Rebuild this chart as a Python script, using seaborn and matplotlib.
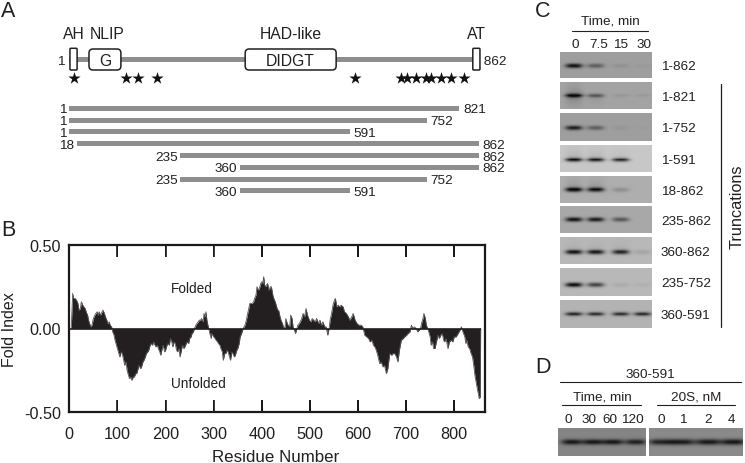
import numpy as np
import matplotlib
matplotlib.use("Agg")
import matplotlib.pyplot as plt
from matplotlib.patches import FancyBboxPatch, Rectangle
import seaborn as sns

W, H = 745, 464
INK = "#231f20"
BAR = "#8e8e8e"

# ---- Panel A data
domain_names = ["AH", "NLIP", "HAD-like", "AT"]
domain_start = [3, 43, 371, 849]
domain_end = [18, 110, 562, 864]
domain_inner = ["", "G", "DIDGT", ""]
star_residues = [12, 121, 145, 185, 601, 698, 710, 730, 751, 761, 782, 803, 831]
construct_start = [1, 1, 1, 18, 235, 360, 235, 360]
construct_end = [821, 752, 591, 862, 862, 862, 752, 591]

# ---- Panel B data
residue = [4, 7, 9, 12, 15, 18, 20, 23, 25, 28,
           30, 33, 35, 38, 40, 42, 45, 47, 50, 53,
           55, 58, 60, 62, 65, 68, 70, 73, 75, 78,
           80, 83, 85, 88, 90, 93, 95, 98, 100, 103,
           105, 108, 110, 113, 115, 118, 120, 123, 125, 128,
           130, 133, 135, 138, 140, 143, 145, 148, 150, 153,
           155, 158, 160, 163, 165, 168, 170, 173, 175, 178,
           180, 183, 185, 188, 190, 193, 195, 198, 200, 203,
           205, 208, 210, 213, 215, 218, 220, 223, 225, 228,
           230, 233, 235, 238, 240, 243, 245, 248, 250, 253,
           255, 258, 260, 263, 265, 268, 270, 273, 275, 278,
           280, 282, 284, 286, 288, 290, 292, 295, 296, 300,
           303, 305, 308, 310, 313, 315, 318, 320, 323, 325,
           328, 330, 333, 335, 338, 340, 343, 345, 348, 350,
           353, 355, 358, 360, 363, 365, 368, 370, 373, 375,
           378, 380, 383, 385, 388, 390, 393, 395, 398, 400,
           402, 404, 406, 408, 412, 415, 418, 420, 423, 425,
           428, 430, 433, 435, 438, 440, 443, 445, 448, 450,
           453, 455, 458, 460, 463, 465, 468, 470, 473, 475,
           478, 480, 483, 486, 489, 492, 495, 499, 502, 505,
           508, 511, 514, 518, 521, 524, 527, 531, 534, 537,
           540, 542, 545, 548, 551, 553, 556, 559, 562, 565,
           569, 572, 576, 580, 583, 587, 590, 594, 598, 602,
           607, 610, 614, 618, 622, 625, 629, 632, 635, 638,
           641, 645, 648, 652, 655, 659, 662, 666, 670, 673,
           676, 680, 683, 686, 690, 694, 697, 701, 704, 708,
           711, 714, 717, 721, 724, 727, 730, 732, 735, 737,
           740, 742, 745, 748, 750, 752, 755, 757, 760, 763,
           766, 769, 772, 775, 778, 780, 783, 787, 790, 794,
           797, 800, 804, 808, 812, 815, 818, 822, 824, 826,
           829, 832, 835, 838, 841, 843, 846, 848, 850, 852,
           854, 855]
fold_index = [0.00, 0.21, 0.18, 0.18, 0.17, 0.15, 0.11, 0.12, 0.16, 0.14,
              0.13, 0.12, 0.10, 0.08, 0.05, 0.03, 0.01, 0.02, 0.06, 0.08,
              0.09, 0.10, 0.08, 0.10, 0.08, 0.10, 0.11, 0.09, 0.07, 0.05,
              0.03, 0.04, 0.02, 0.01, -0.02, -0.04, -0.07, -0.10, -0.12, -0.15,
              -0.17, -0.14, -0.15, -0.19, -0.22, -0.20, -0.25, -0.28, -0.30, -0.29,
              -0.31, -0.29, -0.29, -0.27, -0.27, -0.24, -0.22, -0.24, -0.23, -0.20,
              -0.19, -0.17, -0.15, -0.14, -0.13, -0.10, -0.09, -0.10, -0.08, -0.10,
              -0.11, -0.10, -0.12, -0.14, -0.16, -0.12, -0.10, -0.14, -0.13, -0.10,
              -0.09, -0.10, -0.06, -0.08, -0.11, -0.08, -0.09, -0.13, -0.14, -0.12,
              -0.17, -0.13, -0.10, -0.12, -0.11, -0.09, -0.08, -0.09, -0.06, -0.05,
              -0.03, -0.02, 0.00, 0.02, 0.03, 0.04, 0.05, 0.05, 0.06, 0.04,
              0.09, 0.07, 0.10, 0.05, 0.02, 0.00, -0.03, -0.06, -0.03, -0.05,
              -0.06, -0.07, -0.08, -0.09, -0.10, -0.12, -0.14, -0.19, -0.15, -0.15,
              -0.13, -0.14, -0.17, -0.19, -0.14, -0.15, -0.17, -0.16, -0.13, -0.12,
              -0.09, -0.05, -0.03, -0.01, 0.01, 0.02, 0.05, 0.08, 0.12, 0.15,
              0.15, 0.15, 0.16, 0.18, 0.20, 0.25, 0.23, 0.24, 0.27, 0.28,
              0.27, 0.31, 0.26, 0.25, 0.27, 0.23, 0.25, 0.25, 0.20, 0.18,
              0.16, 0.14, 0.11, 0.11, 0.07, 0.05, 0.03, 0.01, 0.00, 0.06,
              0.03, 0.02, 0.01, 0.08, 0.06, 0.01, -0.01, -0.03, 0.00, 0.02,
              0.03, 0.04, 0.06, 0.09, 0.07, 0.12, 0.08, 0.05, 0.04, 0.06,
              0.05, 0.04, 0.06, 0.03, 0.05, 0.02, 0.04, 0.01, 0.01, -0.04,
              0.00, 0.05, 0.09, 0.14, 0.17, 0.18, 0.13, 0.14, 0.13, 0.14,
              0.13, 0.10, 0.09, 0.07, 0.05, 0.07, 0.09, 0.05, 0.03, 0.02,
              0.02, 0.01, -0.04, -0.05, -0.06, -0.08, -0.07, -0.10, -0.11, -0.13,
              -0.16, -0.21, -0.20, -0.23, -0.22, -0.27, -0.24, -0.15, -0.16, -0.15,
              -0.15, -0.17, -0.20, -0.13, -0.07, -0.06, -0.05, -0.04, -0.03, -0.02,
              0.02, 0.00, 0.01, 0.00, -0.02, -0.01, 0.00, 0.03, 0.06, 0.09,
              0.06, 0.02, 0.00, -0.03, -0.05, -0.10, -0.08, -0.12, -0.12, -0.08,
              -0.04, -0.06, -0.04, -0.03, -0.07, -0.08, -0.06, -0.12, -0.08, -0.07,
              -0.08, -0.05, -0.05, -0.03, -0.01, 0.01, -0.02, -0.05, -0.09, -0.07,
              -0.11, -0.12, -0.15, -0.17, -0.23, -0.28, -0.33, -0.36, -0.39, -0.42,
              -0.41, 0.00]
x_ticks_b = [0, 100, 200, 300, 400, 500, 600, 700, 800]
y_ticks_b = [-0.5, 0.0, 0.5]
y_labels_b = ["-0.50", "0.00", "0.50"]

# ---- Panel C data
blot_names = ["1-862", "1-821", "1-752", "1-591", "18-862", "235-862", "360-862", "235-752", "360-591"]
time_c = ["0", "7.5", "15", "30"]
blot_bg = [0.62, 0.64, 0.62, 0.78, 0.68, 0.66, 0.72, 0.72, 0.70]
blot_bands = [[0.55, 0.25, 0.05, 0.02],
              [0.60, 0.32, 0.05, 0.04],
              [0.50, 0.25, 0.03, 0.01],
              [0.72, 0.68, 0.62, 0.00],
              [0.62, 0.55, 0.12, 0.00],
              [0.58, 0.55, 0.32, 0.00],
              [0.62, 0.60, 0.55, 0.08],
              [0.66, 0.45, 0.05, 0.03],
              [0.62, 0.58, 0.58, 0.60]]
smear_up = [[0, 0, 0, 0], [0.15, 0, 0, 0], [0, 0, 0, 0], [0.12, 0.10, 0.05, 0],
            [0.12, 0.12, 0, 0], [0, 0, 0, 0], [0.06, 0.06, 0.06, 0], [0, 0, 0, 0], [0, 0, 0, 0]]
smear_down = [[0, 0, 0, 0], [0.18, 0.06, 0, 0], [0, 0, 0, 0], [0, 0, 0, 0],
              [0, 0, 0, 0], [0, 0, 0, 0], [0, 0, 0, 0], [0, 0, 0, 0], [0, 0, 0, 0]]

# ---- Panel D data
time_d = ["0", "30", "60", "120"]
conc_d = ["0", "1", "2", "4"]
bands_time = [0.42, 0.43, 0.43, 0.40]
bands_conc = [0.40, 0.43, 0.44, 0.45]

# ---- style
sns.set_theme(style="white")
plt.rcParams["font.family"] = ["Liberation Sans", "DejaVu Sans"]
plt.rcParams["text.color"] = INK
plt.rcParams["axes.labelcolor"] = INK

fig = plt.figure(figsize=(W / 100, H / 100), dpi=100, facecolor="white")


def axes_px(left, top, right, bottom, **kw):
    return fig.add_axes([left / W, 1 - bottom / H, (right - left) / W, (bottom - top) / H], **kw)


# overlay in pixel coordinates, for captions and rules
ov = axes_px(0, 0, W, H)
ov.set_xlim(0, W)
ov.set_ylim(H, 0)
ov.axis("off")
ov.set_zorder(5)


def txt(x, y, s, size=9.7, ha="center", va="center", **kw):
    ov.text(x, y + 1, s, fontsize=size, ha=ha, va=va, color=INK, **kw)


for letter, (lx, ly) in {"A": (8, 17), "B": (8, 236), "C": (543, 17), "D": (543, 373)}.items():
    ov.text(lx, ly, letter, fontsize=15.5, ha="center", va="baseline", color=INK)

# ---- Panel A: x axis in residues, y in figure pixels
axA = axes_px(69, 20, 479, 210)
axA.set_xlim(1, 862)
axA.set_ylim(210, 20)
axA.axis("off")
BACKBONE_Y = 60.3
axA.barh([BACKBONE_Y], [861], left=[1], height=5, color=BAR, linewidth=0)
box_tops = [49.3, 50, 50, 49.3]
box_bottom = 71
for s, e, inner, t in zip(domain_start, domain_end, domain_inner, box_tops):
    r = 4.0 if inner else 1.0
    axA.add_patch(FancyBboxPatch((s, t), e - s, box_bottom - t,
                                 boxstyle=f"round,pad=0,rounding_size={r / 0.476:.2f}",
                                 mutation_aspect=0.476, fc="white", ec=INK, lw=1.1, zorder=3, clip_on=False))
    if inner:
        axA.text((s + e) / 2, 61.5, inner, ha="center", va="center", fontsize=11.3, color=INK, zorder=4)
for n, s, e, xoff in zip(domain_names, domain_start, domain_end, [0, 5, 0, 0]):
    axA.text((s + e) / 2 + xoff, 34.5, n, ha="center", va="center", fontsize=11.3, color=INK)
axA.text(1, 62, "1 ", ha="right", va="center", fontsize=9.7, color=INK)
axA.text(864, 62, " 862", ha="left", va="center", fontsize=9.7, color=INK, clip_on=False)
sns.scatterplot(x=star_residues, y=[79.3] * len(star_residues), marker="*", s=85, color="#111111",
                linewidth=0, ax=axA, legend=False, clip_on=False, zorder=4)
axA.set_xlim(1, 862)
axA.set_ylim(210, 20)
axA.axis("off")

row_y = 109.3 + 11.8 * np.arange(len(construct_start))
axA.barh(row_y, np.array(construct_end) - np.array(construct_start), left=construct_start, height=5,
         color=BAR, linewidth=0)
for y, s, e in zip(row_y, construct_start, construct_end):
    axA.annotate(str(s), (s, y + 1), xytext=(-2, 0), textcoords="offset points", ha="right", va="center",
                 fontsize=9.7, color=INK, annotation_clip=False)
    axA.annotate(str(e), (e, y + 1), xytext=(2.5, 0), textcoords="offset points", ha="left", va="center",
                 fontsize=9.7, color=INK, annotation_clip=False)

# ---- Panel B
BL, BT, BR, BB = 69.3, 246.0, 485.0, 413.0
axB = axes_px(BL, BT, BR, BB)
axB.fill_between(residue, fold_index, 0, color=INK, linewidth=0)
sns.lineplot(x=residue, y=fold_index, estimator=None, sort=False, color="#555555", lw=0.6, ax=axB)
axB.hlines(0, 0, 856, color=INK, lw=1.2)
axB.set_xlim(0, 864)
axB.set_ylim(-0.5, 0.5)
axB.set_xticks(x_ticks_b)
axB.set_yticks(y_ticks_b)
axB.set_yticklabels(y_labels_b)
axB.set_xlabel("")
axB.set_ylabel("")
FRAME = "#1a1a1a"
axB.tick_params(axis="x", direction="in", top=True, bottom=True, length=8.5, width=1.2, color=FRAME,
                labelsize=11.7, pad=10, labelcolor=INK)
axB.tick_params(axis="y", left=False, length=0, labelsize=11.7, pad=6, labelcolor=INK)
for sp in axB.spines.values():
    sp.set_visible(True)
    sp.set_color(FRAME)
    sp.set_linewidth(1.6)
# the same frame and ticks as thin filled strips on the overlay
to_px = (axB.transData + ov.transData.inverted()).transform
for (fx, fy, fw, fh) in [(BL - 1, BT - 1, BR - BL + 2, 2), (BL - 1, BB - 1, BR - BL + 2, 2),
                         (BL - 1, BT - 1, 2, BB - BT + 2), (BR - 1, BT - 1, 2, BB - BT + 2)]:
    ov.add_patch(Rectangle((fx, fy), fw, fh, fc=FRAME, ec="none", zorder=6))
for tick in x_ticks_b[1:]:
    tx = to_px((tick, 0))[0]
    ov.add_patch(Rectangle((tx - 0.8, BT), 1.6, 12, fc=FRAME, ec="none", zorder=6))
    ov.add_patch(Rectangle((tx - 0.8, BB - 12), 1.6, 12, fc=FRAME, ec="none", zorder=6))
txt(191.7, 288, "Folded", size=9.8)
txt(198, 383, "Unfolded", size=9.8)
txt(276, 457, "Residue Number", size=12.2)
txt(9.5, 329, "Fold Index", size=11.5, rotation=90)


# ---- Blots
def blot(left, top, right, bottom, bg, bands, lanes_px, yfrac, half=8.5, thick=2.3, up=None, down=None):
    w, h = int(round(right - left)), int(round(bottom - top))
    xs = np.arange(w) + 0.5 + left
    ys = np.arange(h) + 0.5
    y0 = yfrac * h
    m = np.full((h, w), float(bg))
    up = up or [0] * len(bands)
    down = down or [0] * len(bands)
    for a, lx, u, d in zip(bands, lanes_px, up, down):
        gx = np.exp(-np.abs((xs - lx) / half) ** 3)
        gy = np.exp(-((ys - y0) / thick) ** 2)
        m -= a * np.outer(gy, gx)
        m -= u * np.outer((ys < y0) * np.exp(-(y0 - ys) / 7.0), gx)
        m -= d * np.outer((ys > y0) * np.exp(-(ys - y0) / 7.0), gx)
    m = np.clip(m, 0.04, 1)
    ax = axes_px(left, top, right, bottom)
    sns.heatmap(m, vmin=0, vmax=1, cmap="gray", cbar=False, xticklabels=False, yticklabels=False, ax=ax)
    return ax


row_tops = [52.7, 82.7, 114, 145.7, 177, 207.3, 238, 269, 300.7]
row_bots = [79, 110.3, 142, 173.3, 203.7, 234, 265.3, 296.7, 329.3]
row_frac = [0.53, 0.50, 0.53, 0.55, 0.51, 0.50, 0.56, 0.60, 0.50]
lanes_c = [574.0, 595.7, 620.7, 642.5]
for i, name in enumerate(blot_names):
    t, b = row_tops[i], row_bots[i]
    blot(560, t, 652, b, blot_bg[i], blot_bands[i], lanes_c, row_frac[i], up=smear_up[i], down=smear_down[i])
    txt(661, (t + b) / 2 + 0.5, name, ha="left")

txt(610, 21, "Time, min")
ov.plot([572, 648], [32.3, 32.3], color=INK, lw=0.8)
for s, x in zip(time_c, [575, 599, 621, 644]):
    txt(x, 44, s)
ov.plot([720.7, 720.7], [85, 328], color=INK, lw=0.9)
txt(737, 206, "Truncations", size=11.7, rotation=90)

lanes_d1 = [572.3, 593.3, 613.3, 636]
lanes_d2 = [661, 682.3, 708.3, 733.3]
blot(558.3, 429.3, 646, 457.3, 0.52, bands_time, lanes_d1, 0.5, half=10.5, thick=2.8)
blot(649, 429.3, 743.3, 457.3, 0.54, bands_conc, lanes_d2, 0.5, half=12.5, thick=3.0)
txt(650, 374, "360-591")
ov.plot([560, 741], [383.3, 383.3], color=INK, lw=0.8)
txt(602, 397, "Time, min")
ov.plot([562, 641], [406, 406], color=INK, lw=0.8)
txt(696, 397, "20S, nM")
ov.plot([657, 735], [406, 406], color=INK, lw=0.8)
for s, x in zip(time_d, [568.5, 589.5, 610, 632.5]):
    txt(x, 419, s)
for s, x in zip(conc_d, [661, 682.7, 707.7, 731.7]):
    txt(x, 419, s)

ov.set_xlim(0, W)
ov.set_ylim(H, 0)
fig.savefig("out.png", dpi=100, facecolor="white")
